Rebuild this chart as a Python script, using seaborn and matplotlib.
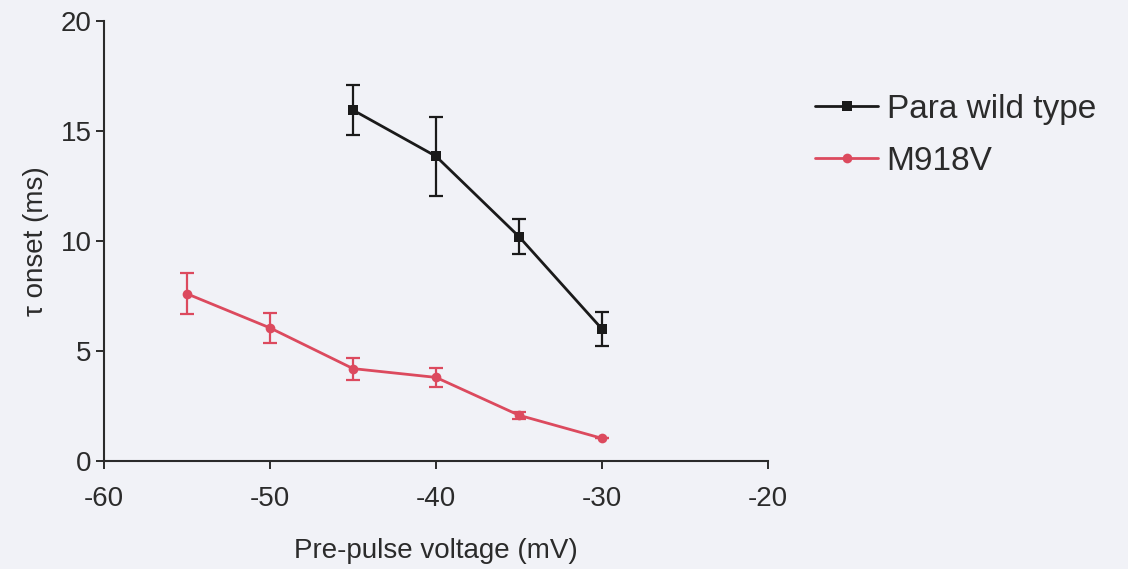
import matplotlib
matplotlib.use("Agg")
import matplotlib.pyplot as plt
import seaborn as sns
import pandas as pd

# Pre-pulse voltages (mV)
wt_voltage = [-45, -40, -35, -30]
wt_tau = [15.95, 13.85, 10.2, 6.0]
wt_sem = [1.15, 1.8, 0.8, 0.78]

m918v_voltage = [-55, -50, -45, -40, -35, -30]
m918v_tau = [7.6, 6.05, 4.2, 3.8, 2.08, 1.03]
m918v_sem = [0.93, 0.7, 0.5, 0.45, 0.15, 0.0]

series_names = ["Para wild type", "M918V"]
series_colors = ["#1a1a1a", "#dc4a5e"]

x_ticks = [-60, -50, -40, -30, -20]
y_ticks = [0, 5, 10, 15, 20]

bg = "#f1f2f7"
ink = "#2b2b2b"

sns.set_theme(style="ticks")
plt.rcParams["font.family"] = ["Liberation Sans", "DejaVu Sans"]

df = pd.concat([
    pd.DataFrame({"voltage": wt_voltage, "tau": wt_tau, "sem": wt_sem,
                  "group": series_names[0]}),
    pd.DataFrame({"voltage": m918v_voltage, "tau": m918v_tau, "sem": m918v_sem,
                  "group": series_names[1]}),
])

fig = plt.figure(figsize=(11.28, 5.69), dpi=100, facecolor=bg)
ax = fig.add_axes([104 / 1128, 1 - 461 / 569, (768 - 104) / 1128, (461 - 21) / 569])
ax.set_facecolor(bg)

palette = dict(zip(series_names, series_colors))
sns.lineplot(data=df, x="voltage", y="tau", hue="group", style="group",
             hue_order=series_names, style_order=series_names,
             palette=palette, markers={series_names[0]: "s", series_names[1]: "o"},
             dashes=False, markersize=7, linewidth=2.0, markeredgewidth=0,
             ax=ax, zorder=3)

for name in series_names:
    sub = df[df["group"] == name]
    ax.errorbar(sub["voltage"], sub["tau"], yerr=sub["sem"], fmt="none",
                ecolor=palette[name], elinewidth=1.6, capsize=4.8, capthick=1.6,
                zorder=2)

ax.set_xlim(-60, -20)
ax.set_ylim(0, 20)
ax.set_xticks(x_ticks)
ax.set_yticks(y_ticks)
ax.set_xticklabels([str(v) for v in x_ticks])
ax.tick_params(axis="both", labelsize=20, length=6, width=1.4, color=ink,
               labelcolor=ink, direction="out")
ax.tick_params(axis="x", pad=12)
ax.tick_params(axis="y", pad=3)

for side in ["top", "right"]:
    ax.spines[side].set_visible(False)
for side in ["left", "bottom"]:
    ax.spines[side].set_color(ink)
    ax.spines[side].set_linewidth(1.5)

ax.set_xlabel("Pre-pulse voltage (mV)", fontsize=20, color=ink, labelpad=19)
ax.set_ylabel("τ onset (ms)", fontsize=20, color=ink, labelpad=8)

handles, labels = ax.get_legend_handles_labels()
ax.legend(handles, labels, loc="upper left", bbox_to_anchor=(815 / 1128, 1 - 94 / 569),
          bbox_transform=fig.transFigure, frameon=False, fontsize=24,
          handlelength=1.9, handletextpad=0.25, labelspacing=0.62,
          labelcolor=ink, borderaxespad=0, borderpad=0)

fig.savefig("out.png", dpi=100, facecolor=bg)
